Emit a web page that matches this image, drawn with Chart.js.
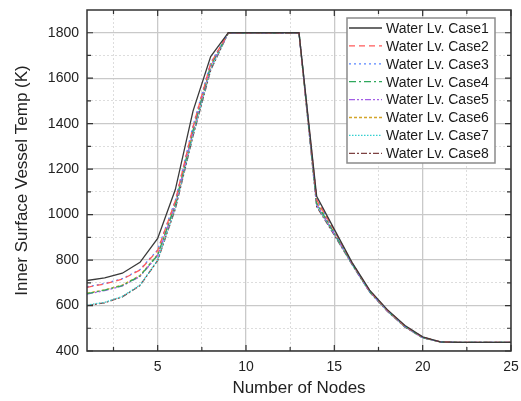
<!DOCTYPE html>
<html>
<head>
<meta charset="utf-8">
<script src="https://cdn.jsdelivr.net/npm/chart.js@4.4.1/dist/chart.umd.min.js"></script>
<style>
  html, body { margin: 0; padding: 0; background: #fff; }
  #wrap { width: 521px; height: 401px; }
</style>
</head>
<body>
<div id="wrap"><canvas id="tempChart" width="521" height="401"></canvas></div>
<script>
// node numbers along the vessel
var nodes = [1, 2, 3, 4, 5, 6, 7, 8, 9, 10, 11, 12, 13, 14, 15, 16, 17, 18, 19, 20, 21, 22, 23, 24, 25];

// inner surface temperature (K) for each water level case
var case1 = [710, 722, 742, 790, 895, 1110, 1455, 1695, 1800, 1800, 1800, 1800, 1800, 1080, 935, 790, 668, 582, 512, 462, 440, 438, 438, 438, 438];
var case2 = [680, 695, 716, 756, 842, 1060, 1385, 1665, 1800, 1800, 1800, 1800, 1800, 1065, 930, 788, 665, 580, 510, 461, 440, 438, 438, 438, 438];
var case3 = [682, 697, 718, 758, 845, 1062, 1390, 1668, 1800, 1800, 1800, 1800, 1800, 1070, 925, 786, 664, 579, 509, 460, 440, 438, 438, 438, 438];
var case4 = [652, 668, 688, 730, 822, 1045, 1370, 1655, 1800, 1800, 1800, 1800, 1800, 1050, 918, 784, 662, 578, 508, 459, 440, 438, 438, 438, 438];
var case5 = [650, 666, 686, 728, 820, 1042, 1365, 1650, 1800, 1800, 1800, 1800, 1800, 1045, 915, 783, 661, 577, 507, 459, 440, 438, 438, 438, 438];
var case6 = [654, 669, 690, 732, 825, 1048, 1372, 1657, 1800, 1800, 1800, 1800, 1800, 1055, 920, 785, 663, 578, 508, 460, 440, 438, 438, 438, 438];
var case7 = [602, 614, 640, 690, 800, 1030, 1350, 1640, 1800, 1800, 1800, 1800, 1800, 1040, 912, 782, 660, 576, 506, 458, 440, 438, 438, 438, 438];
var case8 = [600, 612, 638, 688, 798, 1025, 1345, 1635, 1800, 1800, 1800, 1800, 1800, 1035, 910, 781, 659, 575, 505, 458, 440, 438, 438, 438, 438];

var caseLabels = ["Water Lv. Case1", "Water Lv. Case2", "Water Lv. Case3", "Water Lv. Case4",
                  "Water Lv. Case5", "Water Lv. Case6", "Water Lv. Case7", "Water Lv. Case8"];

var xTicks = [5, 10, 15, 20, 25];
var xMinorTicks = [2.5, 7.5, 12.5, 17.5, 22.5];
var yTicks = [400, 600, 800, 1000, 1200, 1400, 1600, 1800];
var yMinorTicks = [500, 700, 900, 1100, 1300, 1500, 1700];

var allCases = [case1, case2, case3, case4, case5, case6, case7, case8];
var lineColors = ["#3a3a3a", "#ff5a5a", "#5a86ff", "#2fa85c", "#a35ee6", "#d4a52a", "#35d0d0", "#7d4242"];
var lineDashes = [[], [6, 4], [2, 3], [7, 3, 2, 3], [6, 2, 2, 2, 2, 2], [3, 2], [1.5, 1.5], [6, 2, 2, 2]];

var datasets = allCases.map(function (vals, i) {
  return {
    label: caseLabels[i],
    data: vals.map(function (v, j) { return { x: nodes[j], y: v }; }),
    borderColor: lineColors[i],
    backgroundColor: lineColors[i],
    borderWidth: 1.3,
    borderDash: lineDashes[i],
    pointRadius: 0,
    tension: 0,
    fill: false
  };
});

var font = "'Liberation Sans', Arial, sans-serif";

// frame around the plot and inward tick marks on all four sides
var frameTicks = {
  id: "frameTicks",
  afterDraw: function (chart) {
    var c = chart.ctx, a = chart.chartArea;
    var sx = chart.scales.x, sy = chart.scales.y;
    c.save();
    c.strokeStyle = "#333";
    c.lineWidth = 1.5;
    c.setLineDash([]);
    c.strokeRect(a.left, a.top, a.right - a.left, a.bottom - a.top);
    c.lineWidth = 1.2;
    function xt(v, len) {
      var p = sx.getPixelForValue(v);
      c.beginPath();
      c.moveTo(p, a.bottom); c.lineTo(p, a.bottom - len);
      c.moveTo(p, a.top); c.lineTo(p, a.top + len);
      c.stroke();
    }
    function yt(v, len) {
      var p = sy.getPixelForValue(v);
      c.beginPath();
      c.moveTo(a.left, p); c.lineTo(a.left + len, p);
      c.moveTo(a.right, p); c.lineTo(a.right - len, p);
      c.stroke();
    }
    xTicks.forEach(function (v) { xt(v, 6); });
    xMinorTicks.forEach(function (v) { xt(v, 4); });
    yTicks.forEach(function (v) { yt(v, 6); });
    yMinorTicks.forEach(function (v) { yt(v, 4); });
    c.restore();
  }
};

// boxed legend inside the top right corner of the plot
var boxLegend = {
  id: "boxLegend",
  afterDraw: function (chart) {
    var c = chart.ctx, a = chart.chartArea;
    var right = a.right - 16, top = a.top + 8;
    var w = 148, h = 145, left = right - w;
    c.save();
    c.fillStyle = "#fff";
    c.fillRect(left, top, w, h);
    c.strokeStyle = "#8a8a8a";
    c.lineWidth = 1.5;
    c.strokeRect(left, top, w, h);
    c.font = "14px " + font;
    c.textBaseline = "middle";
    chart.data.datasets.forEach(function (ds, i) {
      var y = top + 10 + i * 17.9;
      c.strokeStyle = ds.borderColor;
      c.lineWidth = 1.3;
      c.setLineDash(ds.borderDash);
      c.beginPath();
      c.moveTo(left + 2, y);
      c.lineTo(left + 35, y);
      c.stroke();
      c.setLineDash([]);
      c.fillStyle = "#1a1a1a";
      c.fillText(ds.label, left + 39, y + 1);
    });
    c.restore();
  }
};

function plainTick(v) { return String(v); }

var ctx = document.getElementById("tempChart");

new Chart(ctx, {
  type: "line",
  data: { datasets: datasets },
  plugins: [frameTicks, boxLegend],
  options: {
    responsive: false,
    animation: false,
    layout: { padding: { top: 10, right: 10, left: 0, bottom: 0 } },
    plugins: { legend: { display: false }, tooltip: { enabled: false } },
    scales: {
      x: {
        type: "linear",
        min: 1,
        max: 25,
        afterBuildTicks: function (s) { s.ticks = xTicks.map(function (v) { return { value: v }; }); },
        afterFit: function (s) { s.height = 50; s.paddingLeft = 0; s.paddingRight = 0; },
        grid: { color: "#c9c9c9", lineWidth: 1.3, drawTicks: false },
        border: { display: false },
        ticks: { padding: 8, color: "#222", font: { family: font, size: 14 }, callback: plainTick },
        title: { display: true, text: "Number of Nodes", color: "#222", padding: { top: 0, bottom: 2 }, font: { family: font, size: 17 } }
      },
      xMinor: {
        type: "linear",
        position: "bottom",
        min: 1,
        max: 25,
        afterBuildTicks: function (s) { s.ticks = xMinorTicks.map(function (v) { return { value: v }; }); },
        afterFit: function (s) { s.height = 0; s.paddingLeft = 0; s.paddingRight = 0; },
        grid: { color: "#dddddd", lineWidth: 1, drawTicks: false },
        border: { display: false, dash: [2, 2] },
        ticks: { display: false }
      },
      y: {
        type: "linear",
        min: 400,
        max: 1900,
        afterBuildTicks: function (s) { s.ticks = yTicks.map(function (v) { return { value: v }; }); },
        afterFit: function (s) { s.width = 87; s.paddingTop = 0; s.paddingBottom = 0; },
        grid: { color: "#c9c9c9", lineWidth: 1.3, drawTicks: false },
        border: { display: false },
        ticks: { padding: 8, color: "#222", font: { family: font, size: 14 }, callback: plainTick },
        title: { display: true, text: "Inner Surface Vessel Temp (K)", color: "#222", padding: { top: 12, bottom: 0 }, font: { family: font, size: 17 } }
      },
      yMinor: {
        type: "linear",
        position: "left",
        min: 400,
        max: 1900,
        afterBuildTicks: function (s) { s.ticks = yMinorTicks.map(function (v) { return { value: v }; }); },
        afterFit: function (s) { s.width = 0; s.paddingTop = 0; s.paddingBottom = 0; },
        grid: { color: "#dddddd", lineWidth: 1, drawTicks: false },
        border: { display: false, dash: [2, 2] },
        ticks: { display: false }
      }
    }
  }
});
</script>
</body>
</html>
